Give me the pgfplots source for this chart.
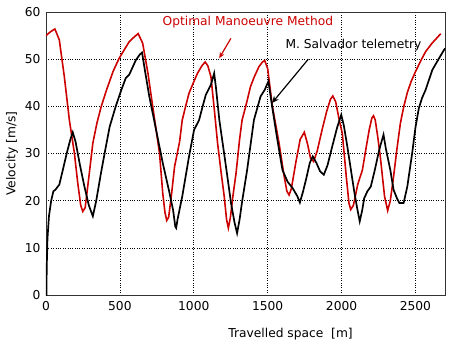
\documentclass[border=0pt]{standalone}
\usepackage{pgfplots}
\pgfplotsset{compat=1.18}
\usepackage{fontspec}
\setmainfont{DejaVu Sans}
\usetikzlibrary{arrows.meta}
\definecolor{optred}{RGB}{204,0,0}
\pgfplotstableread{
x y
0 55.0
30 55.8
60 56.4
90 54.1
124 46.3
158 37.1
192 30.1
215 23.7
235 19.0
249 17.7
265 18.5
290 25.0
317 32.2
345 36.5
374 40.0
410 43.5
454 47.4
495 50.2
530 52.0
563 53.7
600 54.8
624 55.4
654 53.4
690 47.0
722 40.0
768 30.1
790 21.6
805 17.5
817 15.8
830 16.5
850 21.5
870 27.2
904 32.5
922 37.1
945 40.0
968 42.8
1000 45.2
1025 47.0
1055 48.6
1077 49.4
1095 48.6
1116 46.3
1140 39.0
1161 32.2
1185 26.0
1206 20.9
1222 16.0
1234 14.2
1248 16.5
1265 21.0
1286 25.8
1310 33.0
1327 37.1
1354 40.3
1384 44.2
1410 46.3
1441 48.4
1465 49.4
1480 49.7
1500 48.0
1532 40.0
1577 32.2
1612 25.1
1630 22.0
1645 21.2
1660 22.5
1690 28.0
1720 33.0
1748 34.5
1770 32.0
1790 29.0
1811 28.3
1835 30.5
1868 35.0
1900 39.0
1925 41.5
1941 42.2
1960 41.0
1985 37.0
2005 34.3
2032 25.1
2050 19.5
2062 18.1
2080 19.0
2110 23.5
2141 26.5
2165 31.0
2187 35.0
2205 37.5
2216 38.0
2228 37.1
2245 33.5
2262 29.4
2291 20.9
2312 17.9
2330 20.0
2352 25.1
2375 31.0
2398 36.4
2420 39.8
2444 42.8
2470 45.2
2501 47.4
2535 49.6
2569 51.6
2610 53.3
2645 54.5
2671 55.4
}\optimal
\pgfplotstableread{
x y
0 0
3 0
5 6
10 12
20 16.7
35 20
50 22
63 22.3
90 23.4
110 26.0
140 30.0
165 33.0
181 34.5
200 32.5
230 27.5
260 23.0
290 19.0
317 16.7
340 20.0
370 25.5
397 30.1
431 35.7
472 40.0
510 43.5
540 46.0
563 46.7
608 49.8
635 51.0
650 51.4
670 47.5
699 42.1
745 35.0
790 28.0
836 21.6
860 18.0
875 14.5
881 14.2
890 16.0
922 20.9
968 29.4
1002 35.0
1036 37.1
1060 40.0
1081 42.4
1116 44.6
1138 47.0
1150 44.0
1173 37.1
1218 27.2
1252 19.5
1275 15.5
1293 13.1
1310 16.0
1327 19.8
1361 26.5
1407 37.1
1452 42.1
1480 43.5
1505 45.3
1530 40.0
1560 34.0
1600 26.5
1635 24.0
1668 22.7
1700 21.0
1718 19.6
1740 22.0
1759 24.4
1785 28.0
1805 29.4
1830 28.0
1855 26.2
1880 25.5
1905 27.5
1937 31.5
1970 35.5
1998 38.2
2015 36.0
2039 31.5
2084 22.3
2105 18.5
2123 15.6
2140 18.0
2153 20.5
2175 22.0
2198 23.0
2225 26.5
2255 30.8
2284 34.0
2300 31.0
2330 26.5
2352 22.3
2375 20.5
2391 19.5
2420 19.5
2445 23.0
2478 30.1
2500 35.5
2523 39.6
2545 41.8
2569 43.5
2614 47.7
2660 50.2
2700 52.3
}\telemetry
\begin{document}
\begin{tikzpicture}
\begin{axis}[
  name=ax,
  scale only axis,
  width=399bp, height=283bp,
  xmin=0, xmax=2700, ymin=0, ymax=60,
  xtick={0,500,...,2500},
  ytick={0,10,...,60},
  font=\fontsize{12.3}{14}\selectfont,
  /pgf/number format/assume math mode=true,
  /pgf/number format/1000 sep={},
  tick style={draw=none},
  axis line style={draw=black!80, line width=0.8pt},
  grid=major,
  grid style={dotted, black, line width=0.6pt},
  xlabel={Travelled space\ \ [m]},
  ylabel={Velocity [m/s]},
  xlabel style={at={(axis description cs:0.613,0)}, anchor=north, yshift=-30bp},
  ylabel style={yshift=0bp},
  yticklabel style={xshift=-2bp},
  xticklabel style={yshift=-3bp},
  clip=true,
]
\addplot[color=optred, line width=1.6pt] table[x=x,y=y] {\optimal};
\addplot[color=black, line width=1.7pt] table[x=x,y=y] {\telemetry};
\node[anchor=west, text=optred, inner sep=0pt] at (axis cs:788,57.9) {Optimal Manoeuvre Method};
\node[anchor=west, text=black, inner sep=0pt] at (axis cs:1620,53.0) {M. Salvador telemetry};
\draw[optred, line width=1.2pt, -{Stealth[length=6bp,width=5bp]}] (axis cs:1251,54.4) -- (axis cs:1172,50.2);
\draw[black, line width=1.2pt, -{Stealth[length=7bp,width=6bp]}] (axis cs:1775,50.0) -- (axis cs:1529,40.7);
\end{axis}
\pgfresetboundingbox
\path[use as bounding box] ([shift={(-46bp,-49bp)}]ax.south west) rectangle ([shift={(4bp,12bp)}]ax.north east);
\end{tikzpicture}
\end{document}
